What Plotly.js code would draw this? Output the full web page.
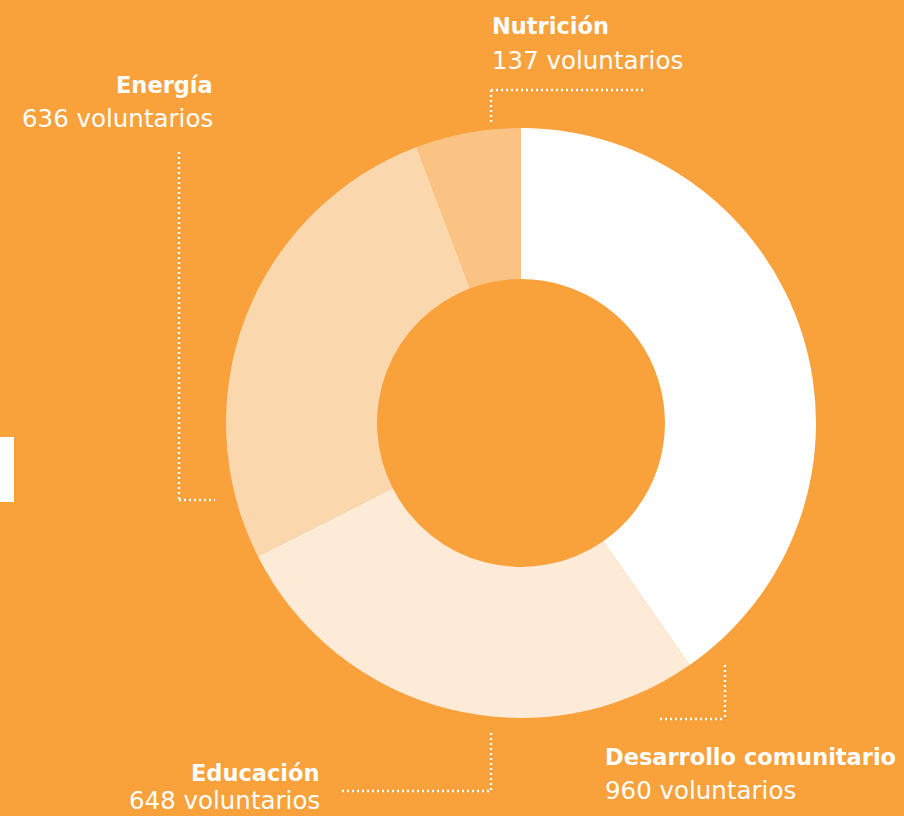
<!DOCTYPE html>
<html>
<head>
<meta charset="utf-8">
<script src="https://cdn.plot.ly/plotly-3.0.1.min.js"></script>
<style>html,body{margin:0;padding:0;background:#F9A13B;}#chart{width:904px;height:816px;}</style>
</head>
<body>
<div id="chart"></div>
<script>
const categories = ["Desarrollo comunitario", "Educación", "Energía", "Nutrición"];
const volunteers = [960, 648, 636, 137];
const sliceColors = ["#FFFFFF", "#FDEBD8", "#FBD7AE", "#FAC383"];
const unitLabel = "voluntarios";

const W = 904, H = 816;
const px = x => x / W;
const py = y => 1 - y / H;

// label placements (pixel anchors) by category index
const labelPos = [
  {x: 604, yb: 757, yr: 790, anchor: "left"},
  {x: 321, yb: 773, yr: 800, anchor: "right"},
  {x: 214, yb: 85, yr: 118, anchor: "right"},
  {x: 491, yb: 26, yr: 61, anchor: "left"}
];

const annotations = [];
categories.forEach((c, i) => {
  const p = labelPos[i];
  annotations.push({xref: "paper", yref: "paper", x: px(p.x), y: py(p.yb), xanchor: p.anchor, yanchor: "middle",
    text: "<b>" + c + "</b>", showarrow: false, borderpad: 0,
    font: {family: "DejaVu Sans, sans-serif", size: 22.5, color: "#FFFFFF"}});
  annotations.push({xref: "paper", yref: "paper", x: px(p.x), y: py(p.yr), xanchor: p.anchor, yanchor: "middle",
    text: volunteers[i] + " " + unitLabel, showarrow: false, borderpad: 0,
    font: {family: "DejaVu Sans, sans-serif", size: 24.5, color: "#FFFFFF"}});
});

const dotLine = {color: "#FFFFFF", width: 2.4, dash: "2px,3px"};
const seg = (x0, y0, x1, y1) => ({type: "line", xref: "paper", yref: "paper", x0: px(x0), y0: py(y0), x1: px(x1), y1: py(y1), line: dotLine});
const shapes = [
  seg(491, 90, 645, 90), seg(491, 90, 491, 125),
  seg(179, 152, 179, 500), seg(179, 500, 215, 500),
  seg(725, 665, 725, 719), seg(660, 719, 725, 719),
  seg(491, 733, 491, 791), seg(342, 791, 491, 791),
  {type: "rect", xref: "paper", yref: "paper", x0: px(0), x1: px(14), y0: py(437), y1: py(502), fillcolor: "#FFFFFF", line: {width: 0}}
];

const data = [{
  type: "pie",
  values: volunteers,
  labels: categories,
  marker: {colors: sliceColors, line: {width: 0}},
  hole: 0.488,
  sort: false,
  direction: "clockwise",
  rotation: 0,
  textinfo: "none",
  hoverinfo: "none",
  showlegend: false,
  domain: {x: [px(226), px(816)], y: [py(718), py(128)]}
}];

const layout = {
  width: W, height: H,
  margin: {l: 0, r: 0, t: 0, b: 0},
  paper_bgcolor: "#F9A13B",
  plot_bgcolor: "#F9A13B",
  showlegend: false,
  annotations: annotations,
  shapes: shapes
};

Plotly.newPlot("chart", data, layout, {displayModeBar: false, staticPlot: true});
</script>
</body>
</html>
